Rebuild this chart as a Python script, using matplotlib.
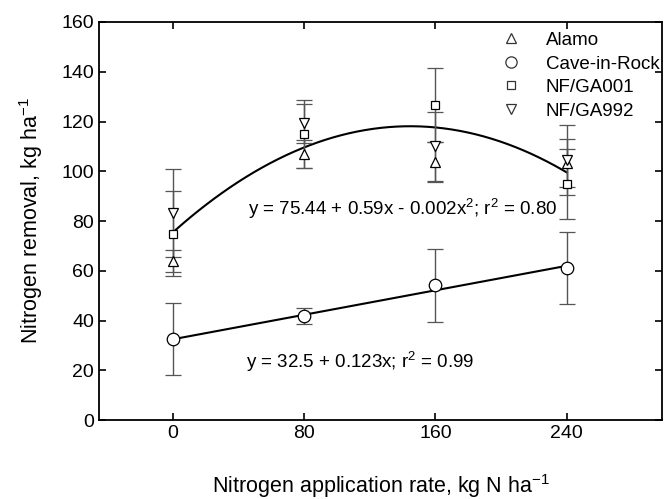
import numpy as np
import matplotlib
matplotlib.use("Agg")
import matplotlib.pyplot as plt
from matplotlib.lines import Line2D

plt.rcParams['font.family'] = ['Liberation Sans', 'DejaVu Sans']
plt.rcParams['mathtext.default'] = 'regular'

# N application rate, kg N/ha
rates = [0, 80, 160, 240]

# means and error bars
alamo = [64.0, 107.0, 103.8, 103.3]
alamo_err = [4.3, 5.5, 8.0, 9.5]
cir = [32.6, 41.8, 54.2, 61.2]
cir_err = [14.3, 3.2, 14.7, 14.5]
ga001 = [75.0, 115.0, 126.6, 94.9]
ga001_err = [17.0, 13.5, 15.0, 14.0]
ga992 = [83.3, 119.2, 110.0, 104.5]
ga992_err = [17.6, 8.0, 14.0, 14.0]

# regression lines (coefficients, highest power first)
quad_coef = [-0.00204, 0.59, 75.44]
lin_coef = [0.123, 32.5]
quad_text = 'y = 75.44 + 0.59x - 0.002x$^{2}$; r$^{2}$ = 0.80'
lin_text = 'y = 32.5 + 0.123x; r$^{2}$ = 0.99'

fig = plt.figure(figsize=(6.64, 4.99), dpi=100)
ax = fig.add_axes([0.149, 0.158, 0.848, 0.798])

xfit = np.linspace(rates[0], rates[-1], 200)
ax.plot(xfit, np.polyval(quad_coef, xfit), color='black', lw=1.5, zorder=2)
ax.plot(xfit, np.polyval(lin_coef, xfit), color='black', lw=1.5, zorder=2)

series = [
    (alamo, alamo_err, '^', 7.5, 'Alamo'),
    (cir, cir_err, 'o', 9, 'Cave-in-Rock'),
    (ga001, ga001_err, 's', 6, 'NF/GA001'),
    (ga992, ga992_err, 'v', 7.5, 'NF/GA992'),
]
handles = []
for y, e, m, ms, lab in series:
    ax.errorbar(rates, y, yerr=e, fmt=m, ms=ms, mfc='white', mec='black',
                mew=0.9, ecolor='#555555', elinewidth=1.0, capsize=6,
                capthick=1.0, zorder=3)
    handles.append(Line2D([], [], ls='none', marker=m, ms=ms * 0.9,
                          mfc='white', mec='#333333', mew=0.9, label=lab))

ax.text(140, 85, quad_text, fontsize=13.5, ha='center', va='center')
ax.text(114, 23.5, lin_text, fontsize=13.5, ha='center', va='center')

ax.legend(handles=handles, loc='upper right', bbox_to_anchor=(1.019, 1.008),
          frameon=False, fontsize=13.5, handlelength=1.0, handletextpad=1.35,
          labelspacing=0.34, borderaxespad=0.3)

ax.set_xlim(-45, 298)
ax.set_ylim(0, 160)
ax.set_xticks(rates)
ax.set_yticks(range(0, 161, 20))
ax.tick_params(direction='in', top=True, right=True, labelsize=14,
               length=5, width=1.2)
for s in ax.spines.values():
    s.set_linewidth(1.3)

ax.set_xlabel('Nitrogen application rate, kg N ha$^{-1}$', fontsize=15.5, labelpad=22)
ax.set_ylabel('Nitrogen removal, kg ha$^{-1}$', fontsize=15.5, labelpad=12)

fig.savefig('out.png', dpi=100)
